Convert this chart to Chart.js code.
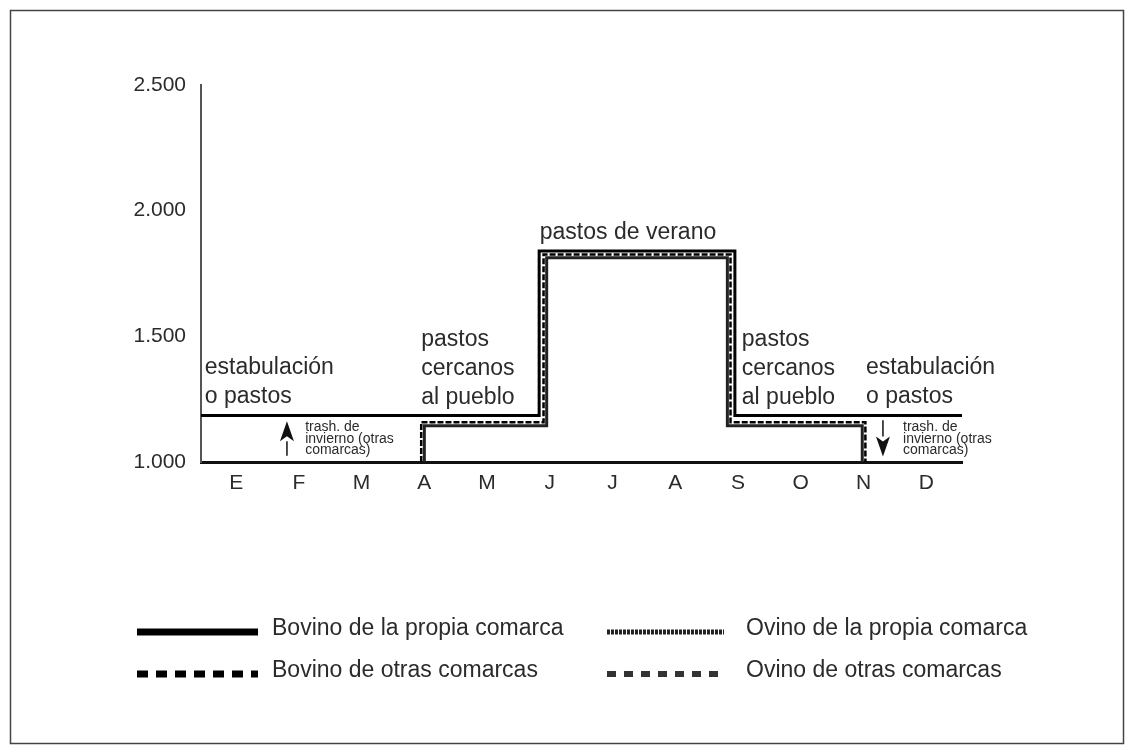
<!DOCTYPE html>
<html>
<head>
<meta charset="utf-8">
<script src="https://cdn.jsdelivr.net/npm/chart.js@4.4.1/dist/chart.umd.min.js"></script>
<style>
  html, body { margin: 0; padding: 0; background: #fff; }
  #wrap { position: relative; width: 1134px; height: 754px; }
</style>
</head>
<body>
<div id="wrap"><canvas id="chart" width="1134" height="754"></canvas></div>
<script>
// Meses (eje x) y altitud (eje y)
const meses = ['E', 'F', 'M', 'A', 'M', 'J', 'J', 'A', 'S', 'O', 'N', 'D'];
const altitudTicks = [1000, 1500, 2000, 2500];

// Recorridos de cada rebaño (x = posición del mes, y = altitud)
const bovinoPropiaX = [-0.56, 4.83, 4.83, 7.95, 7.95, 11.57];
const bovinoPropiaY = [1185, 1185, 1840, 1840, 1185, 1185];

const bovinoOtrasX = [2.95, 2.95, 4.9, 4.9, 7.88, 7.88, 10.03, 10.03];
const bovinoOtrasY = [1000, 1158, 1158, 1826, 1826, 1158, 1158, 1000];

const ovinoPropiaX = [3.0, 3.0, 4.95, 4.95, 7.83, 7.83, 9.98, 9.98];
const ovinoPropiaY = [1000, 1144, 1144, 1813, 1813, 1144, 1144, 1000];

const ovinoOtrasX = ovinoPropiaX;
const ovinoOtrasY = ovinoPropiaY;

// Rótulos dentro del gráfico
const notas = [
    { x: -0.5, y: 1374, lineas: ['estabulación', 'o pastos'] },
    { x: 2.95, y: 1485, lineas: ['pastos', 'cercanos', 'al pueblo'] },
    { x: 4.84, y: 1911, lineas: ['pastos de verano'] },
    { x: 8.06, y: 1485, lineas: ['pastos', 'cercanos', 'al pueblo'] },
    { x: 10.04, y: 1374, lineas: ['estabulación', 'o pastos'] }
];
const notasPequenas = [
    { x: 1.1, y: 1137, lineas: ['trash. de', 'invierno (otras', 'comarcas)'] },
    { x: 10.63, y: 1137, lineas: ['trash. de', 'invierno (otras', 'comarcas)'] }
];
// Flechas: x, altitud de inicio, altitud final
const flechas = [
    { x: 0.81, desde: 1025, hasta: 1162 },
    { x: 10.31, desde: 1166, hasta: 1022 }
];

const TEXT = '#2b2b2b';
const FONT = '"Liberation Sans", Arial, sans-serif';

function puntos(xs, ys) {
    return xs.map((x, i) => ({ x: x, y: ys[i] }));
}

// Estilo de la muestra en la leyenda
const leyenda = [
    { col: 0, fila: 0, color: '#000', width: 7, dash: [] },
    { col: 0, fila: 1, color: '#000', width: 7, dash: [11, 8] },
    { col: 1, fila: 0, color: '#222', width: 5, dash: [3, 1] },
    { col: 1, fila: 1, color: '#333', width: 6, dash: [9, 8] }
];

const extrasPlugin = {
    id: 'extras',
    beforeDraw(chart) {
        const ctx = chart.ctx;
        ctx.save();
        ctx.strokeStyle = '#444';
        ctx.lineWidth = 1.5;
        ctx.strokeRect(10.5, 10.5, 1113, 733);
        ctx.restore();
    },
    afterDraw(chart) {
        const ctx = chart.ctx;
        const xs = chart.scales.x;
        const ys = chart.scales.y;
        ctx.save();
        ctx.fillStyle = TEXT;
        ctx.textBaseline = 'middle';
        ctx.textAlign = 'left';

        ctx.font = '23px ' + FONT;
        notas.forEach(n => {
            const px = xs.getPixelForValue(n.x);
            const py = ys.getPixelForValue(n.y);
            n.lineas.forEach((t, i) => ctx.fillText(t, px, py + i * 29));
        });

        ctx.font = '14px ' + FONT;
        notasPequenas.forEach(n => {
            const px = xs.getPixelForValue(n.x);
            const py = ys.getPixelForValue(n.y);
            n.lineas.forEach((t, i) => ctx.fillText(t, px, py + i * 11.5));
        });

        // flechas
        ctx.strokeStyle = '#111';
        ctx.fillStyle = '#111';
        ctx.lineWidth = 1.5;
        flechas.forEach(f => {
            const px = xs.getPixelForValue(f.x);
            const y0 = ys.getPixelForValue(f.desde);
            const y1 = ys.getPixelForValue(f.hasta);
            const dir = y1 < y0 ? -1 : 1;
            const head = 20;
            ctx.beginPath();
            ctx.moveTo(px, y0);
            ctx.lineTo(px, y1 - dir * head);
            ctx.stroke();
            ctx.beginPath();
            ctx.moveTo(px, y1);
            ctx.lineTo(px - 7, y1 - dir * head);
            ctx.lineTo(px, y1 - dir * (head - 5));
            ctx.lineTo(px + 7, y1 - dir * head);
            ctx.closePath();
            ctx.fill();
        });

        // leyenda
        const colX = [137, 607];
        const colW = [121, 117];
        const textX = [272, 746];
        const filaY = [632, 674];
        ctx.font = '23px ' + FONT;
        chart.data.datasets.forEach((ds, i) => {
            const l = leyenda[i];
            const y = filaY[l.fila];
            ctx.save();
            ctx.strokeStyle = l.color;
            ctx.lineWidth = l.width;
            ctx.setLineDash(l.dash);
            ctx.beginPath();
            ctx.moveTo(colX[l.col], y);
            ctx.lineTo(colX[l.col] + colW[l.col], y);
            ctx.stroke();
            ctx.restore();
            ctx.fillStyle = TEXT;
            ctx.fillText(ds.label, textX[l.col], y - 3);
        });
        ctx.restore();
    }
};

new Chart(document.getElementById('chart'), {
    type: 'line',
    data: {
        datasets: [
            {
                label: 'Bovino de la propia comarca',
                data: puntos(bovinoPropiaX, bovinoPropiaY),
                borderColor: '#000',
                borderWidth: 3
            },
            {
                label: 'Bovino de otras comarcas',
                data: puntos(bovinoOtrasX, bovinoOtrasY),
                borderColor: '#000',
                borderWidth: 2.5,
                borderDash: [6, 2]
            },
            {
                label: 'Ovino de la propia comarca',
                data: puntos(ovinoPropiaX, ovinoPropiaY),
                borderColor: '#222',
                borderWidth: 3
            },
            {
                label: 'Ovino de otras comarcas',
                data: puntos(ovinoOtrasX, ovinoOtrasY),
                borderColor: '#aaa',
                borderWidth: 1,
                borderDash: [3, 3]
            }
        ]
    },
    options: {
        responsive: false,
        animation: false,
        layout: { padding: { top: 85, right: 172, bottom: 0, left: 0 } },
        elements: {
            point: { radius: 0 },
            line: { tension: 0, borderCapStyle: 'butt', borderJoinStyle: 'miter' }
        },
        plugins: {
            legend: { display: false },
            tooltip: { enabled: false }
        },
        scales: {
            x: {
                type: 'linear',
                min: -0.56,
                max: 11.57,
                afterBuildTicks: scale => {
                    scale.ticks = meses.map((m, i) => ({ value: i }));
                },
                afterFit: scale => { scale.height = 292; },
                grid: { display: false, drawTicks: false },
                border: { display: true, color: '#111', width: 3 },
                ticks: {
                    padding: 9,
                    color: TEXT,
                    font: { family: FONT, size: 21 },
                    callback: v => meses[v]
                }
            },
            y: {
                min: 1000,
                max: 2500,
                afterBuildTicks: scale => {
                    scale.ticks = altitudTicks.map(v => ({ value: v }));
                },
                afterFit: scale => { scale.width = 201; },
                grid: { display: false, drawTicks: false },
                border: { display: true, color: '#555', width: 2 },
                ticks: {
                    padding: 15,
                    color: TEXT,
                    font: { family: FONT, size: 21 },
                    callback: v => v.toLocaleString('de-DE')
                }
            }
        }
    },
    plugins: [extrasPlugin]
});
</script>
</body>
</html>
